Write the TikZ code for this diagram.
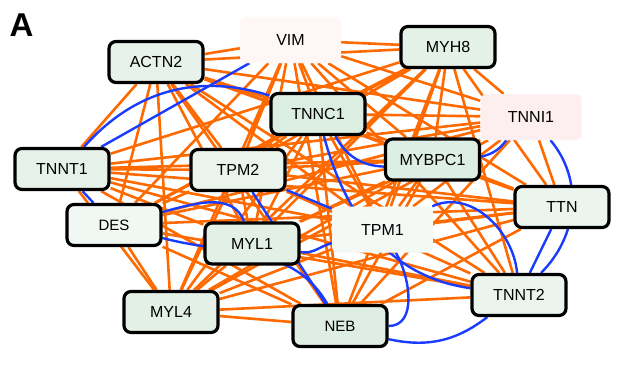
\documentclass[tikz,border=0pt]{standalone}
\usepackage{fontspec}
\setmainfont{Liberation Sans}
\usetikzlibrary{backgrounds}
\definecolor{edgeorange}{HTML}{FF6A00}
\definecolor{edgeblue}{HTML}{1A3CFF}
\def\genefont{\fontsize{16}{18}\selectfont}

\begin{document}
\begin{tikzpicture}[x=1pt, y=1pt,
    gene/.style={draw=black, line width=3.2pt, rounded corners=7pt, minimum width=94pt, minimum height=41pt, inner sep=0pt, font=\genefont},
    faint/.style={rounded corners=6pt, minimum width=101pt, minimum height=46pt, inner sep=0pt, font=\genefont},
    oe/.style={draw=edgeorange, line width=2.6pt},
    be/.style={draw=edgeblue, line width=2.4pt}]
      \useasboundingbox (0,0) rectangle (620,365);
      \node[anchor=base west, font=\fontsize{33}{33}\selectfont\bfseries] (panel) at (6,328) {A};
      \node[gene, fill={rgb,255:red,231;green,243;blue,234}] (ACTN2) at (156,303) {ACTN2};
      \node[faint, fill={rgb,255:red,254;green,247;blue,245}] (VIM) at (290.5,325) {VIM};
      \node[gene, fill={rgb,255:red,227;green,241;blue,231}] (MYH8) at (448,318) {MYH8};
      \node[gene, fill={rgb,255:red,220;green,238;blue,226}] (TNNC1) at (318,251) {TNNC1};
      \node[faint, fill={rgb,255:red,253;green,239;blue,239}] (TNNI1) at (531,248) {TNNI1};
      \node[gene, fill={rgb,255:red,221;green,239;blue,228}] (MYBPC1) at (432.5,205.5) {MYBPC1};
      \node[gene, fill={rgb,255:red,230;green,242;blue,233}] (TNNT1) at (62,196) {TNNT1};
      \node[gene, fill={rgb,255:red,234;green,244;blue,236}] (TPM2) at (238,195) {TPM2};
      \node[gene, fill={rgb,255:red,241;green,247;blue,242}, font=\fontsize{15}{17}\selectfont] (DES) at (114,140) {DES};
      \node[gene, fill={rgb,255:red,226;green,240;blue,230}] (MYL1) at (252,121.5) {MYL1};
      \node[faint, fill={rgb,255:red,244;green,249;blue,245}] (TPM1) at (382.5,135.5) {TPM1};
      \node[gene, fill={rgb,255:red,235;green,245;blue,238}] (TTN) at (562,158) {TTN};
      \node[gene, fill={rgb,255:red,226;green,240;blue,230}] (MYL4) at (171,53) {MYL4};
      \node[gene, fill={rgb,255:red,222;green,238;blue,228}, font=\fontsize{15}{17}\selectfont] (NEB) at (340,39) {NEB};
      \node[gene, fill={rgb,255:red,234;green,244;blue,237}] (TNNT2) at (519,70) {TNNT2};
      \begin{scope}[on background layer]
      \fill[white] (0,0) rectangle (620,365);
      \draw[oe] (ACTN2) -- (VIM) (ACTN2) -- (MYH8) (ACTN2) -- (TNNC1) (ACTN2) -- (TNNI1) (ACTN2) -- (MYBPC1) (ACTN2) -- (TNNT1) (ACTN2) -- (TPM2) (ACTN2) -- (DES) (ACTN2) -- (MYL1) (ACTN2) -- (TPM1) (ACTN2) -- (TTN) (ACTN2) -- (MYL4) (ACTN2) -- (NEB) (ACTN2) -- (TNNT2);
      \draw[oe] (VIM) -- (MYH8) (VIM) -- (TNNC1) (VIM) -- (TNNI1) (VIM) -- (MYBPC1) (VIM) -- (TPM2) (VIM) -- (DES) (VIM) -- (MYL1) (VIM) -- (TPM1) (VIM) -- (TTN) (VIM) -- (MYL4) (VIM) -- (NEB) (VIM) -- (TNNT2);
      \draw[oe] (MYH8) -- (TNNC1) (MYH8) -- (TNNI1) (MYH8) -- (MYBPC1) (MYH8) -- (TNNT1) (MYH8) -- (TPM2) (MYH8) -- (DES) (MYH8) -- (MYL1) (MYH8) -- (TPM1) (MYH8) -- (TTN) (MYH8) -- (MYL4) (MYH8) -- (NEB) (MYH8) -- (TNNT2);
      \draw[oe] (TNNC1) -- (TNNI1) (TNNC1) -- (TPM2) (TNNC1) -- (DES) (TNNC1) -- (MYL1) (TNNC1) -- (TPM1) (TNNC1) -- (TTN) (TNNC1) -- (MYL4) (TNNC1) -- (NEB);
      \draw[oe] (TNNI1) -- (TNNT1) (TNNI1) -- (TPM2) (TNNI1) -- (DES) (TNNI1) -- (MYL1) (TNNI1) -- (TPM1) (TNNI1) -- (TTN) (TNNI1) -- (MYL4) (TNNI1) -- (NEB);
      \draw[oe] (MYBPC1) -- (TNNT1) (MYBPC1) -- (TPM2) (MYBPC1) -- (DES) (MYBPC1) -- (MYL1) (MYBPC1) -- (TPM1) (MYBPC1) -- (TTN) (MYBPC1) -- (MYL4) (MYBPC1) -- (NEB) (MYBPC1) -- (TNNT2);
      \draw[oe] (TNNT1) -- (TPM2) (TNNT1) -- (MYL1) (TNNT1) -- (TPM1) (TNNT1) -- (TTN) (TNNT1) -- (MYL4) (TNNT1) -- (NEB) (TNNT1) -- (TNNT2);
      \draw[oe] (TPM2) -- (DES) (TPM2) -- (MYL1) (TPM2) -- (TTN) (TPM2) -- (MYL4) (TPM2) -- (TNNT2);
      \draw[oe] (DES) -- (TTN) (DES) -- (MYL4) (DES) -- (NEB) (DES) -- (TNNT2);
      \draw[oe] (MYL1) -- (TTN) (MYL1) -- (MYL4) (MYL1) -- (TNNT2) (TPM1) -- (TTN) (TPM1) -- (MYL4);
      \draw[oe] (TTN) -- (MYL4) (TTN) -- (NEB) (MYL4) -- (NEB) (MYL4) -- (TNNT2);
      \draw[be] (TNNT1) to[bend left=33] (TNNC1);
      \draw[be] (TNNT1) -- (VIM);
      \draw[be] (TNNT1) -- (DES);
      \draw[be] (DES) to[out=15,in=110] (MYL1);
      \draw[be] (DES) to[out=-15,in=120] (NEB);
      \draw[be] (MYL1) to[out=-10,in=195] (TPM1);
      \draw[be] (TPM2) -- (TPM1);
      \draw[be] (TPM2) -- (NEB);
      \draw[be] (TNNC1) to[bend right=30] (MYBPC1);
      \draw[be] (TNNC1) to[out=-75,in=172] (TNNT2);
      \draw[be] (TPM1) to[out=25,in=95] (TNNT2);
      \draw[be] (NEB) to[out=0,in=-60] (TPM1);
      \draw[be] (NEB) to[bend right=25] (TNNT2);
      \draw[be] (MYBPC1) to[bend right=20] (TNNI1);
      \draw[be] (TNNI1) to[out=-50,in=45] (TNNT2);
      \draw[be] (TTN) -- (TNNT2);
      \end{scope}
    \end{tikzpicture}
\end{document}
